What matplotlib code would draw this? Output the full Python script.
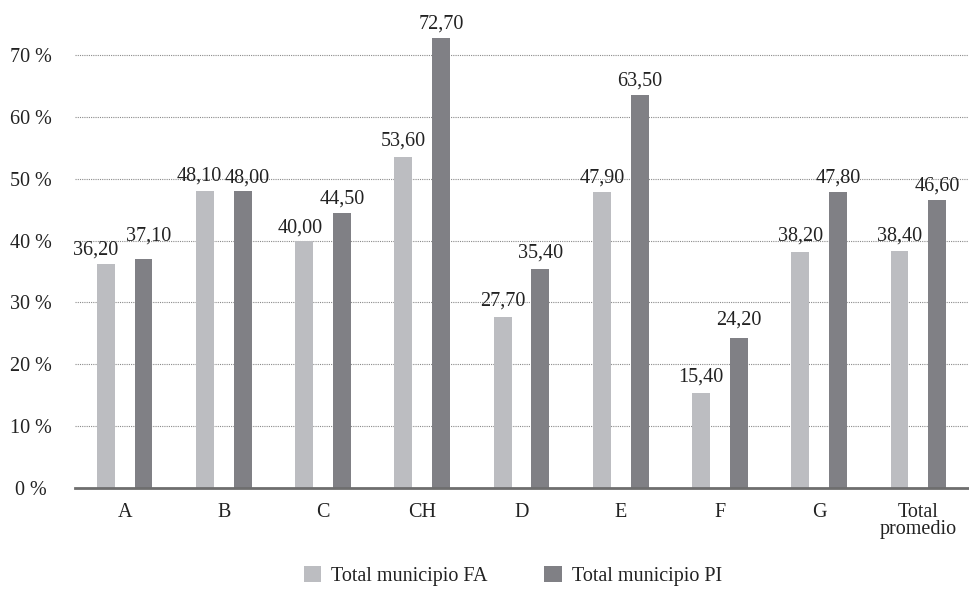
import matplotlib
matplotlib.use("Agg")
import matplotlib.pyplot as plt
from matplotlib.patches import Patch
import numpy as np

categories = ["A", "B", "C", "CH", "D", "E", "F", "G", "Total\npromedio"]
fa_values = [36.2, 48.1, 40.0, 53.6, 27.7, 47.9, 15.4, 38.2, 38.4]
pi_values = [37.1, 48.0, 44.5, 72.7, 35.4, 63.5, 24.2, 47.8, 46.6]
series_names = ["Total municipio FA", "Total municipio PI"]
yticks = [0, 10, 20, 30, 40, 50, 60, 70]
ytick_labels = ["0 %", "10 %", "20 %", "30 %", "40 %", "50 %", "60 %", "70 %"]

# label placement tweaks (points): (dx, dy)
fa_label_shift = [(-7, 7), (-4, 7), (-3, 6), (0, 8), (0, 8), (0, 7), (0, 8), (0, 8), (0, 7)]
pi_label_shift = [(4, 13), (3, 6), (0, 7), (0, 7), (0, 8), (0, 7), (0, 10), (0, 7), (0, 7)]

plt.rcParams['font.family'] = ['Liberation Serif', 'DejaVu Serif']
FS = 14.5

c_light = "#bcbdc1"
c_dark = "#808085"

fig = plt.figure(figsize=(9.7, 5.89), dpi=100)
ax = fig.add_axes([75 / 970, 1 - 488 / 589, (968 - 75) / 970, (488 - 18) / 589])

x = np.arange(len(categories))
w = 0.18
off = 0.19
ax.bar(x - off, fa_values, width=w, color=c_light, zorder=2)
ax.bar(x + off, pi_values, width=w, color=c_dark, zorder=2)

for xi, v, (dx, dy) in zip(x - off, fa_values, fa_label_shift):
    ax.annotate(f"{v:.2f}".replace(".", ","), (xi, v), xytext=(dx, dy),
                textcoords="offset points", ha="center", va="baseline",
                fontsize=FS, color="#222222", zorder=3)
for xi, v, (dx, dy) in zip(x + off, pi_values, pi_label_shift):
    ax.annotate(f"{v:.2f}".replace(".", ","), (xi, v), xytext=(dx, dy),
                textcoords="offset points", ha="center", va="baseline",
                fontsize=FS, color="#222222", zorder=3)

ax.set_xlim(-0.5, len(categories) - 0.5)
ax.set_ylim(0, 76)
ax.set_yticks(yticks)
ax.set_yticklabels(ytick_labels, fontsize=FS, color="#222222")
for lab in ax.get_yticklabels():
    lab.set_horizontalalignment("center")
ax.set_xticks(x)
ax.set_xticklabels(categories, fontsize=FS, color="#222222", linespacing=0.85)
ax.tick_params(axis="y", length=0, pad=31.5)
ax.tick_params(axis="x", length=0, pad=11)

for s in ["top", "right", "left"]:
    ax.spines[s].set_visible(False)
ax.spines["bottom"].set_color("#6e6e6e")
ax.spines["bottom"].set_linewidth(2.0)
ax.spines["bottom"].set_zorder(4)

ax.yaxis.grid(True, linestyle=(0, (1, 1)), color="#8a8a8a", linewidth=0.8, zorder=0)
ax.set_axisbelow(True)

handles = [Patch(facecolor=c_light, edgecolor="none"), Patch(facecolor=c_dark, edgecolor="none")]
fig.legend(handles, series_names, loc="center", bbox_to_anchor=(513 / 970, 1 - 576 / 589),
           ncol=2, frameon=False, fontsize=FS, handlelength=0.85, handleheight=0.85,
           handletextpad=0.5, columnspacing=2.8, labelcolor="#222222")

fig.savefig("out.png", dpi=100)
